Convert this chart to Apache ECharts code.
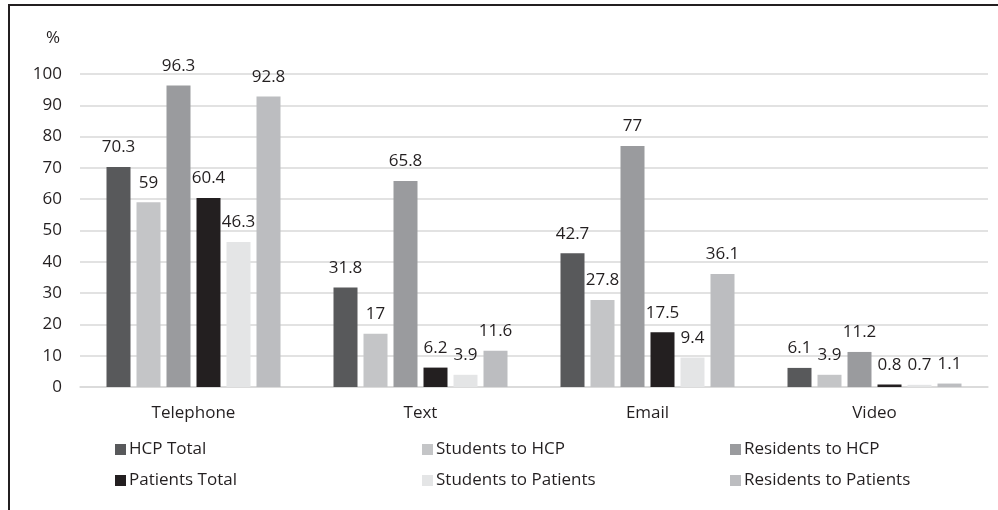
<!DOCTYPE html>
<html>
<head>
<meta charset="utf-8">
<script src="https://cdn.jsdelivr.net/npm/echarts@6/dist/echarts.min.js"></script>
<style>
  html, body { margin: 0; padding: 0; background: #ffffff; }
  #chart { width: 998px; height: 510px; }
</style>
</head>
<body>
<div id="chart"></div>
<script>
// Communication channels used, percentage per group
const categories = ['Telephone', 'Text', 'Email', 'Video'];

const hcpTotal            = [70.3, 31.8, 42.7, 6.1];
const studentsToHcp       = [59, 17, 27.8, 3.9];
const residentsToHcp      = [96.3, 65.8, 77, 11.2];
const patientsTotal       = [60.4, 6.2, 17.5, 0.8];
const studentsToPatients  = [46.3, 3.9, 9.4, 0.7];
const residentsToPatients = [92.8, 11.6, 36.1, 1.1];

const seriesNames = ['HCP Total', 'Students to HCP', 'Residents to HCP',
                     'Patients Total', 'Students to Patients', 'Residents to Patients'];
const seriesData = [hcpTotal, studentsToHcp, residentsToHcp,
                    patientsTotal, studentsToPatients, residentsToPatients];
const seriesColors = ['#58595b', '#c4c5c7', '#9a9b9e', '#231f20', '#e4e5e6', '#bcbdc0'];

const yTicks = [0, 10, 20, 30, 40, 50, 60, 70, 80, 90, 100];

const FONT = '"Open Sans", "Noto Sans", sans-serif';
const TEXT_COLOR = '#231f20';
const FS = 17;

const chart = echarts.init(document.getElementById('chart'), null, { renderer: 'canvas' });

const series = seriesNames.map((name, i) => ({
  name: name,
  type: 'bar',
  data: seriesData[i],
  barWidth: 24,
  barGap: '25%',
  itemStyle: { color: seriesColors[i] },
  label: {
    show: true,
    position: 'top',
    distance: 11,
    color: TEXT_COLOR,
    fontFamily: FONT,
    fontSize: FS
  }
}));

// legend laid out as three columns over two rows
const legendCols = [115, 422, 730];
const legendRows = [441, 472];
const legends = seriesNames.map((name, i) => ({
  data: [name],
  left: legendCols[i % 3],
  top: legendRows[Math.floor(i / 3)],
  orient: 'horizontal',
  itemWidth: 11,
  itemHeight: 11,
  itemGap: 0,
  icon: 'rect',
  padding: 0,
  textStyle: { color: TEXT_COLOR, fontFamily: FONT, fontSize: FS, padding: [0, 0, 0, -2] },
  selectedMode: false
}));

chart.setOption({
  animation: false,
  backgroundColor: '#ffffff',
  grid: { left: 80, right: 10, top: 74, bottom: 123 },
  legend: legends,
  xAxis: {
    type: 'category',
    data: categories,
    axisLine: { show: true, lineStyle: { color: '#d9d9d9', width: 1.5 } },
    axisTick: { show: false },
    axisLabel: { color: TEXT_COLOR, fontFamily: FONT, fontSize: FS, margin: 18 }
  },
  yAxis: {
    type: 'value',
    min: yTicks[0],
    max: yTicks[yTicks.length - 1],
    interval: 10,
    name: '%',
    nameLocation: 'end',
    nameGap: 27,
    nameTextStyle: { color: TEXT_COLOR, fontFamily: FONT, fontSize: FS, align: 'right', padding: [0, 20, 0, 0] },
    axisLine: { show: false },
    axisTick: { show: false },
    axisLabel: { color: TEXT_COLOR, fontFamily: FONT, fontSize: FS, margin: 18 },
    splitLine: { show: true, lineStyle: { color: '#d9d9d9', width: 1.5 } }
  },
  graphic: [
    { type: 'line', shape: { x1: 8, y1: 5, x2: 998, y2: 5 }, style: { stroke: '#231f20', lineWidth: 2 } },
    { type: 'line', shape: { x1: 9, y1: 4, x2: 9, y2: 510 }, style: { stroke: '#231f20', lineWidth: 2 } }
  ],
  series: series
});
</script>
</body>
</html>
